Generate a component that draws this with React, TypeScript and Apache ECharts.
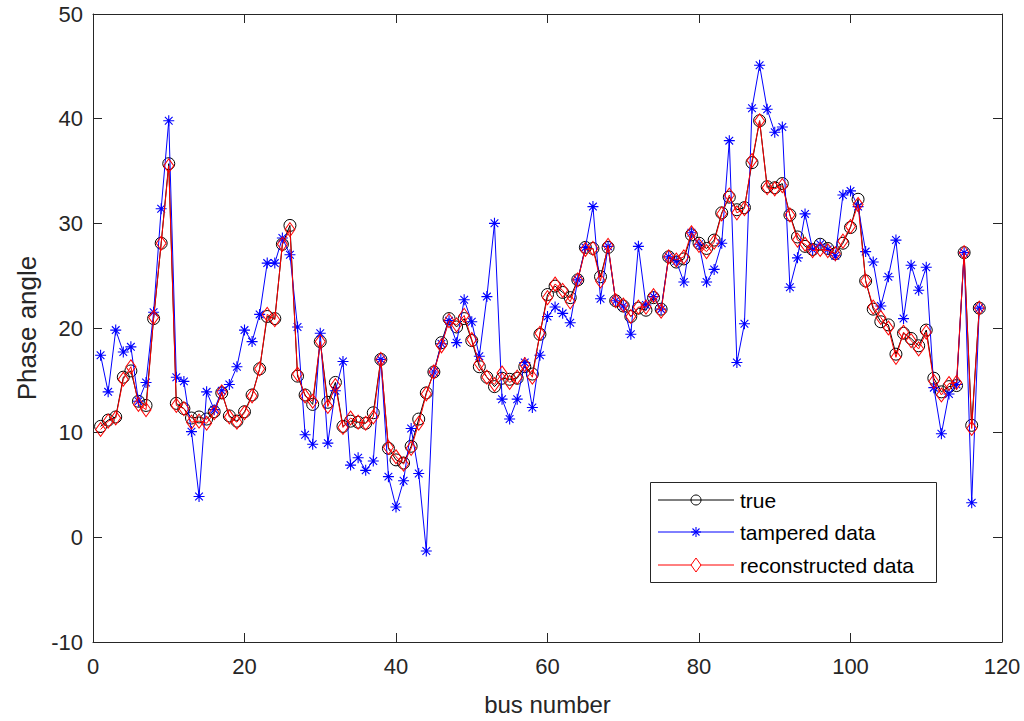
import React, { useEffect, useRef } from "react";
import * as echarts from "echarts";

const trueValues = [
  10.6, 11.2, 11.5, 15.3, 15.9, 13.0, 12.6, 20.9, 28.1, 35.7,
  12.8, 12.3, 11.4, 11.5, 11.3, 12.0, 13.8, 11.6, 11.1, 12.0,
  13.6, 16.1, 21.1, 20.9, 28.0, 29.8, 15.4, 13.6, 12.7, 18.7,
  12.9, 14.8, 10.6, 11.1, 11.0, 10.9, 11.9, 17.0, 8.5, 7.4,
  7.1, 8.7, 11.3, 13.8, 15.8, 18.6, 20.9, 20.1, 20.9, 18.8,
  16.3, 15.3, 14.4, 15.2, 15.1, 15.2, 16.3, 15.6, 19.4, 23.2,
  24.0, 23.4, 22.9, 24.6, 27.7, 27.6, 24.9, 27.7, 22.6, 22.1,
  21.1, 21.9, 21.7, 22.9, 21.8, 26.8, 26.3, 26.6, 28.9, 28.1,
  27.6, 28.4, 31.0, 32.5, 31.3, 31.5, 35.8, 39.8, 33.5, 33.4,
  33.8, 30.8, 28.7, 27.8, 27.5, 28.0, 27.6, 27.1, 28.1, 29.6,
  32.3, 24.5, 21.8, 20.6, 20.3, 17.5, 19.5, 19.0, 18.3, 19.8,
  15.2, 13.9, 14.4, 14.5, 27.2, 10.7, 21.9,
];

const tamperedValues = [
  17.4, 13.9, 19.8, 17.7, 18.2, 13.0, 14.8, 21.5, 31.4, 39.8,
  15.3, 14.9, 10.1, 3.9, 13.9, 12.2, 14.0, 14.6, 16.3, 19.8,
  18.7, 21.3, 26.2, 26.2, 28.6, 27.0, 20.1, 9.8, 8.9, 19.5,
  9.0, 14.0, 16.8, 6.9, 7.6, 6.4, 7.3, 17.0, 5.8, 2.9,
  5.4, 10.4, 6.1, -1.3, 15.8, 18.5, 20.7, 18.6, 22.7, 20.6,
  17.3, 23.0, 30.0, 13.2, 11.3, 13.2, 16.7, 12.4, 17.4, 21.1,
  22.0, 21.4, 20.5, 24.6, 27.7, 31.6, 22.8, 27.8, 22.6, 22.1,
  19.4, 27.8, 22.2, 23.0, 21.8, 26.8, 26.4, 24.4, 29.1, 28.0,
  24.4, 25.6, 28.1, 37.9, 16.7, 20.4, 41.0, 45.1, 40.9, 38.7,
  39.2, 23.9, 26.7, 30.9, 27.5, 28.0, 27.5, 26.9, 32.7, 33.1,
  31.6, 27.3, 26.3, 22.1, 24.9, 28.4, 20.9, 26.0, 23.6, 25.8,
  14.3, 9.9, 13.7, 14.6, 27.2, 3.3, 21.9,
];

const reconstructedValues = [
  10.3, 11.1, 11.4, 15.1, 16.3, 12.7, 12.2, 21.0, 28.1, 35.5,
  12.6, 12.3, 11.0, 11.1, 10.9, 11.9, 13.9, 11.5, 11.0, 11.9,
  13.5, 16.1, 21.3, 20.8, 28.0, 29.4, 15.6, 13.5, 13.0, 18.7,
  12.5, 14.5, 10.5, 11.4, 11.0, 10.9, 11.5, 17.0, 8.6, 7.7,
  7.0, 8.5, 10.9, 13.7, 15.8, 18.3, 20.7, 20.3, 21.2, 18.9,
  16.6, 15.3, 14.6, 15.7, 14.8, 15.3, 16.5, 15.3, 19.5, 22.9,
  24.2, 23.6, 22.5, 24.6, 27.5, 27.6, 24.5, 27.9, 22.6, 22.2,
  21.1, 22.0, 22.0, 23.1, 21.6, 26.8, 26.5, 26.8, 29.1, 27.9,
  27.3, 28.2, 30.9, 32.7, 31.0, 31.4, 36.0, 39.8, 33.4, 33.3,
  33.6, 30.8, 28.4, 28.0, 27.4, 27.5, 27.4, 27.1, 28.3, 29.7,
  31.8, 24.5, 22.0, 21.0, 20.0, 17.2, 19.6, 18.8, 18.0, 19.6,
  14.9, 13.6, 14.7, 14.8, 27.2, 10.4, 21.9,
];

const seriesNames = ["true", "tampered data", "reconstructed data"];
const seriesColors = ["#000000", "#0000ff", "#ff0000"];
const xTicks = { min: 0, max: 120, interval: 20 };
const yTicks = { min: -10, max: 50, interval: 10 };

const FONT = "'Liberation Sans', Arial, Helvetica, sans-serif";
const AX = "#262626";

const asterisk =
  "path://M5 0 L5 10 M0 5 L10 5 M1.5 1.5 L8.5 8.5 M1.5 8.5 L8.5 1.5";
const ring = "path://M10 5 A5 5 0 1 1 0 5 A5 5 0 1 1 10 5 Z";
const diamond = "path://M5 0 L10 7 L5 14 L0 7 Z";
const symbols = [ring, asterisk, diamond];

function toPairs(values: number[]) {
  return values.map((v, i) => [i + 1, v]);
}

function legendMarker(i: number, cx: number, cy: number) {
  const c = seriesColors[i];
  if (i === 0) {
    return {
      type: "circle",
      shape: { cx, cy, r: 5 },
      style: { fill: "none", stroke: c, lineWidth: 1 },
      z: 12,
    };
  }
  if (i === 1) {
    const r = 5;
    const d = 3.5;
    return {
      type: "group",
      z: 12,
      children: [
        { type: "line", shape: { x1: cx, y1: cy - r, x2: cx, y2: cy + r }, style: { stroke: c, lineWidth: 1.1 }, z: 12 },
        { type: "line", shape: { x1: cx - r, y1: cy, x2: cx + r, y2: cy }, style: { stroke: c, lineWidth: 1.1 }, z: 12 },
        { type: "line", shape: { x1: cx - d, y1: cy - d, x2: cx + d, y2: cy + d }, style: { stroke: c, lineWidth: 1.1 }, z: 12 },
        { type: "line", shape: { x1: cx - d, y1: cy + d, x2: cx + d, y2: cy - d }, style: { stroke: c, lineWidth: 1.1 }, z: 12 },
      ],
    };
  }
  return {
    type: "polygon",
    shape: { points: [[cx, cy - 7], [cx + 5, cy], [cx, cy + 7], [cx - 5, cy]] },
    style: { fill: "#ffffff", stroke: c, lineWidth: 1 },
    z: 12,
  };
}

export default function App() {
  const ref = useRef<HTMLDivElement>(null);

  useEffect(() => {
    if (!ref.current) return;
    const chart = echarts.init(ref.current, null, { renderer: "svg" });

    const axisCommon = {
      axisLine: { show: true, onZero: false, lineStyle: { color: AX, width: 1 } },
      axisTick: { show: true, inside: true, length: 9, lineStyle: { color: AX } },
      splitLine: { show: false },
    };

    const markerStyle = (i: number) => ({
      color: i === 1 ? seriesColors[i] : "rgba(0,0,0,0)",
      borderColor: seriesColors[i],
      borderWidth: i === 1 ? 1.1 : 1,
    });

    const legendRows = [500, 532, 565];
    const legendGraphics: any[] = [
      {
        type: "rect",
        shape: { x: 650.5, y: 482.5, width: 286, height: 100 },
        style: { fill: "#ffffff", stroke: AX, lineWidth: 1 },
        z: 10,
      },
    ];
    seriesNames.forEach((name, i) => {
      const y = legendRows[i];
      legendGraphics.push({
        type: "line",
        shape: { x1: 658, y1: y, x2: 734, y2: y },
        style: { stroke: seriesColors[i], lineWidth: 1 },
        z: 11,
      });
      legendGraphics.push(legendMarker(i, 696, y));
      legendGraphics.push({
        type: "text",
        x: 740,
        y,
        style: {
          text: name,
          fill: "#000000",
          fontSize: 21,
          fontFamily: FONT,
          verticalAlign: "middle",
          align: "left",
        },
        z: 12,
      });
    });

    chart.setOption({
      animation: false,
      backgroundColor: "#ffffff",
      textStyle: { fontFamily: FONT },
      grid: { left: 93, top: 14, width: 909, height: 629, containLabel: false },
      xAxis: [
        {
          type: "value",
          position: "bottom",
          ...xTicks,
          ...axisCommon,
          axisLabel: { color: AX, fontSize: 22, fontFamily: FONT, margin: 13 },
          name: "bus number",
          nameLocation: "middle",
          nameGap: 50,
          nameTextStyle: { color: AX, fontSize: 24, fontFamily: FONT },
        },
        {
          type: "value",
          position: "top",
          ...xTicks,
          ...axisCommon,
          axisLabel: { show: false },
        },
      ],
      yAxis: [
        {
          type: "value",
          position: "left",
          ...yTicks,
          ...axisCommon,
          axisLabel: { color: AX, fontSize: 22, fontFamily: FONT, margin: 10 },
          name: "Phase angle",
          nameLocation: "middle",
          nameGap: 51,
          nameTextStyle: { color: AX, fontSize: 26, fontFamily: FONT },
        },
        {
          type: "value",
          position: "right",
          ...yTicks,
          ...axisCommon,
          axisLabel: { show: false },
        },
      ],
      graphic: legendGraphics,
      series: [
        {
          name: seriesNames[0],
          type: "line",
          data: toPairs(trueValues),
          symbol: symbols[0],
          symbolSize: 12,
          lineStyle: { color: seriesColors[0], width: 1 },
          itemStyle: markerStyle(0),
          z: 2,
        },
        {
          name: seriesNames[1],
          type: "line",
          data: toPairs(tamperedValues),
          symbol: symbols[1],
          symbolSize: 11,
          lineStyle: { color: seriesColors[1], width: 1 },
          itemStyle: markerStyle(1),
          z: 3,
        },
        {
          name: seriesNames[2],
          type: "line",
          data: toPairs(reconstructedValues),
          symbol: symbols[2],
          symbolSize: [10, 14],
          lineStyle: { color: seriesColors[2], width: 1 },
          itemStyle: markerStyle(2),
          z: 4,
        },
      ],
    });

    return () => chart.dispose();
  }, []);

  return (
    <div
      ref={ref}
      style={{ position: "fixed", left: 0, top: 0, width: 1024, height: 721, background: "#fff" }}
    />
  );
}
